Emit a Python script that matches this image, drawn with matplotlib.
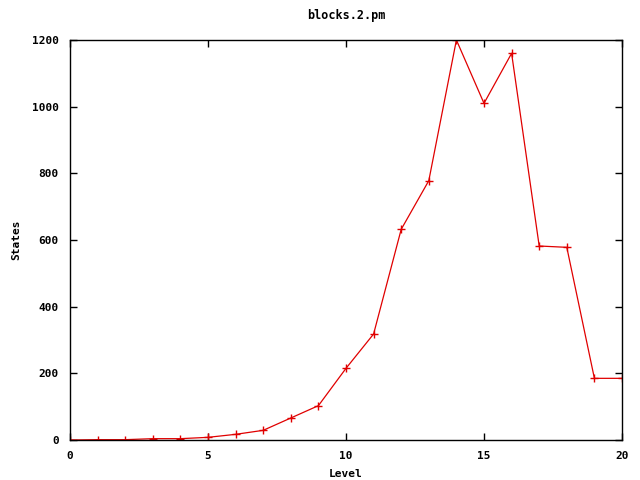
import matplotlib
matplotlib.use("Agg")
import matplotlib.pyplot as plt

levels = list(range(0, 21))
states = [0, 1, 1, 4, 4, 8, 17, 29, 66, 103, 215, 318, 632, 778, 1200,
          1010, 1160, 582, 578, 185, 185]

plt.rcParams["font.family"] = "DejaVu Sans Mono"
plt.rcParams["font.weight"] = "bold"
plt.rcParams["font.size"] = 8

fig = plt.figure(figsize=(6.4, 4.8), dpi=100)
ax = fig.add_axes([70 / 640, 40 / 480, 552 / 640, 400 / 480])
ax.plot(levels, states, color="#e00000", lw=0.9, marker="+", ms=6, mew=1)
ax.set_xlim(0, 20)
ax.set_ylim(0, 1200)
ax.set_xticks([0, 5, 10, 15, 20])
ax.set_yticks([0, 200, 400, 600, 800, 1000, 1200])
ax.tick_params(direction="in", length=5, width=1, top=True, right=True, pad=8)
for s in ax.spines.values():
    s.set_linewidth(1)
ax.set_xlabel("Level", fontweight="bold", labelpad=6)
ax.set_ylabel("States", fontweight="bold", labelpad=8)
ax.set_title("blocks.2.pm", fontweight="bold", fontsize=8.5, pad=15)

fig.savefig("out.png", dpi=100, facecolor="white")
